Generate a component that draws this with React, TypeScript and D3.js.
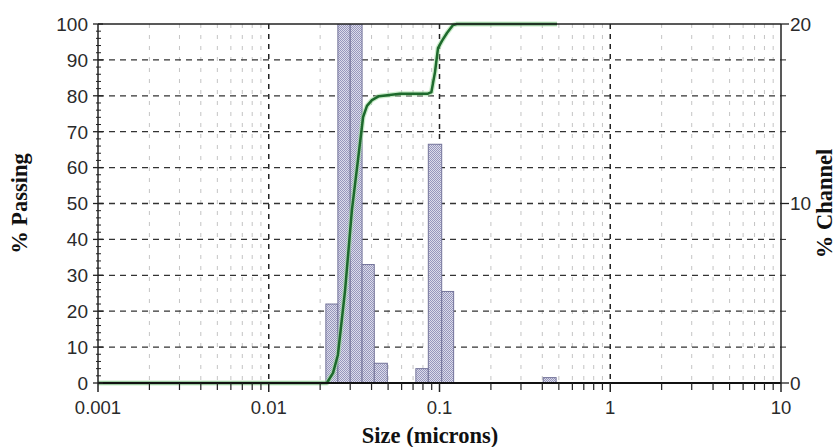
import React from "react";
import * as d3 from "d3";

const sizeTicks = [0.001, 0.01, 0.1, 1, 10];
const sizeTickLabels = ["0.001", "0.01", "0.1", "1", "10"];
const passTicks = [0, 10, 20, 30, 40, 50, 60, 70, 80, 90, 100];
const channelTicks = [0, 10, 20];

const binLow = [0.0216, 0.0254, 0.03, 0.0352, 0.0415, 0.0727, 0.086, 0.103, 0.405];
const binHigh = [0.0254, 0.03, 0.0352, 0.0415, 0.0495, 0.086, 0.103, 0.121, 0.482];
const channelPct = [4.4, 36, 34, 6.6, 1.1, 0.8, 13.3, 5.1, 0.3];

const curveSize = [0.001, 0.0219, 0.0238, 0.0254, 0.028, 0.0307, 0.0333, 0.0357, 0.0376, 0.0402, 0.0442, 0.0587, 0.0856, 0.0896, 0.0941, 0.098, 0.1034, 0.1106, 0.12, 0.1262, 0.488];
const curvePass = [0, 0, 2.8, 7.8, 25.9, 48.2, 62.1, 74.1, 77.2, 78.8, 79.9, 80.6, 80.6, 81.0, 86.6, 93.3, 95.3, 97.5, 99.7, 100, 100];

const W = 838, H = 447;
const L = 98, R = 781, T = 24, B = 383;

export default function App() {
  const x = d3.scaleLog().domain([0.001, 10]).range([L, R]);
  const yL = d3.scaleLinear().domain([0, 100]).range([B, T]);
  const yR = d3.scaleLinear().domain([0, 20]).range([B, T]);

  const minorX: number[] = [];
  for (let d = 0; d < 4; d++) {
    for (let m = 2; m <= 9; m++) minorX.push(m * sizeTicks[d]);
  }
  const minorL: number[] = d3.range(0, 101, 2).filter((v) => v % 10 !== 0);
  const minorR: number[] = d3.range(0, 21, 2).filter((v) => v % 10 !== 0);

  const line = d3
    .line<number>()
    .x((_, i) => x(curveSize[i]))
    .y((d) => yL(d));
  const pathD = line(curvePass) || "";

  const tickFont = "'Liberation Sans', Arial, sans-serif";
  const titleFont = "'Liberation Serif', 'Times New Roman', serif";

  return (
    <svg width={W} height={H} style={{ position: "absolute", left: 0, top: 0, background: "#fff" }}>
      <defs>
        <pattern id="dots" width="2" height="2" patternUnits="userSpaceOnUse">
          <rect width="2" height="2" fill="#dcdcea" />
          <rect width="1" height="1" fill="#9797bd" />
          <rect x="1" y="1" width="1" height="1" fill="#9797bd" />
        </pattern>
        <clipPath id="plot">
          <rect x={L} y={T} width={R - L} height={B - T} />
        </clipPath>
      </defs>

      {/* minor vertical grid */}
      {minorX.map((v, i) => (
        <line key={"mx" + i} x1={x(v)} x2={x(v)} y1={T} y2={B} stroke="#c4c4c4" strokeWidth={1} strokeDasharray="4,7" />
      ))}
      {/* major vertical grid */}
      {sizeTicks.slice(1, 4).map((v, i) => (
        <line key={"Mx" + i} x1={x(v)} x2={x(v)} y1={T} y2={B} stroke="#222" strokeWidth={1.5} strokeDasharray="5,5" />
      ))}
      {/* horizontal grid */}
      {passTicks.slice(1, 10).map((v, i) => (
        <line key={"hy" + i} x1={L} x2={R} y1={yL(v)} y2={yL(v)} stroke="#333" strokeWidth={1.3} strokeDasharray="6,5" />
      ))}

      {/* bars */}
      <g clipPath="url(#plot)">
        {channelPct.map((v, i) => (
          <rect
            key={"b" + i}
            x={x(binLow[i])}
            width={x(binHigh[i]) - x(binLow[i])}
            y={yR(v)}
            height={B - yR(v)}
            fill="url(#dots)"
            stroke="#74749a"
            strokeWidth={1}
          />
        ))}
      </g>

      {/* cumulative line */}
      <path d={pathD} fill="none" stroke="#9fdc9f" strokeWidth={5} strokeOpacity={0.55} strokeLinejoin="round" />
      <path d={pathD} fill="none" stroke="#1d6a2c" strokeWidth={2.5} strokeLinejoin="round" />

      {/* frame */}
      <line x1={L} x2={R} y1={T} y2={T} stroke="#222" strokeWidth={1.5} />
      <line x1={L} x2={R} y1={B} y2={B} stroke="#111" strokeWidth={2} />
      <line x1={L} x2={L} y1={T} y2={B} stroke="#222" strokeWidth={1.5} />
      <line x1={R} x2={R} y1={T} y2={B} stroke="#222" strokeWidth={1.5} />

      {/* left axis ticks */}
      {passTicks.map((v) => (
        <line key={"lt" + v} x1={L - 5} x2={L + 5} y1={yL(v)} y2={yL(v)} stroke="#222" strokeWidth={1.3} />
      ))}
      {minorL.map((v) => (
        <line key={"lm" + v} x1={L - 2} x2={L + 3} y1={yL(v)} y2={yL(v)} stroke="#222" strokeWidth={1} />
      ))}
      {passTicks.map((v) => (
        <text key={"ll" + v} x={L - 10} y={yL(v)} dy="0.36em" textAnchor="end" fontFamily={tickFont} fontSize={19} fill="#2a2a2a">
          {v}
        </text>
      ))}

      {/* right axis */}
      {channelTicks.map((v) => (
        <line key={"rt" + v} x1={R} x2={R + 8} y1={yR(v)} y2={yR(v)} stroke="#222" strokeWidth={1.3} />
      ))}
      {minorR.map((v) => (
        <line key={"rm" + v} x1={R} x2={R + 5} y1={yR(v)} y2={yR(v)} stroke="#222" strokeWidth={1} />
      ))}
      {channelTicks.map((v) => (
        <text key={"rl" + v} x={R + 9} y={yR(v)} dy="0.36em" textAnchor="start" fontFamily={tickFont} fontSize={19} fill="#2a2a2a">
          {v}
        </text>
      ))}

      {/* bottom axis */}
      {sizeTicks.map((v) => (
        <line key={"bt" + v} x1={x(v)} x2={x(v)} y1={B} y2={B + 9} stroke="#222" strokeWidth={1.5} />
      ))}
      {minorX.map((v, i) => (
        <line key={"bm" + i} x1={x(v)} x2={x(v)} y1={B} y2={B + 7} stroke="#222" strokeWidth={1.2} />
      ))}
      {sizeTicks.map((v, i) => (
        <text key={"bl" + v} x={x(v)} y={B + 31} textAnchor="middle" fontFamily={tickFont} fontSize={18.5} fill="#2a2a2a">
          {sizeTickLabels[i]}
        </text>
      ))}

      {/* titles */}
      <text x={430} y={443} textAnchor="middle" fontFamily={titleFont} fontWeight="bold" fontSize={22.5} fill="#111">
        Size (microns)
      </text>
      <text transform={`translate(27,${(T + B) / 2}) rotate(-90)`} textAnchor="middle" fontFamily={titleFont} fontWeight="bold" fontSize={22.5} fill="#111">
        % Passing
      </text>
      <text transform={`translate(832,${(T + B) / 2}) rotate(-90)`} textAnchor="middle" fontFamily={titleFont} fontWeight="bold" fontSize={22.5} fill="#111">
        % Channel
      </text>
    </svg>
  );
}
